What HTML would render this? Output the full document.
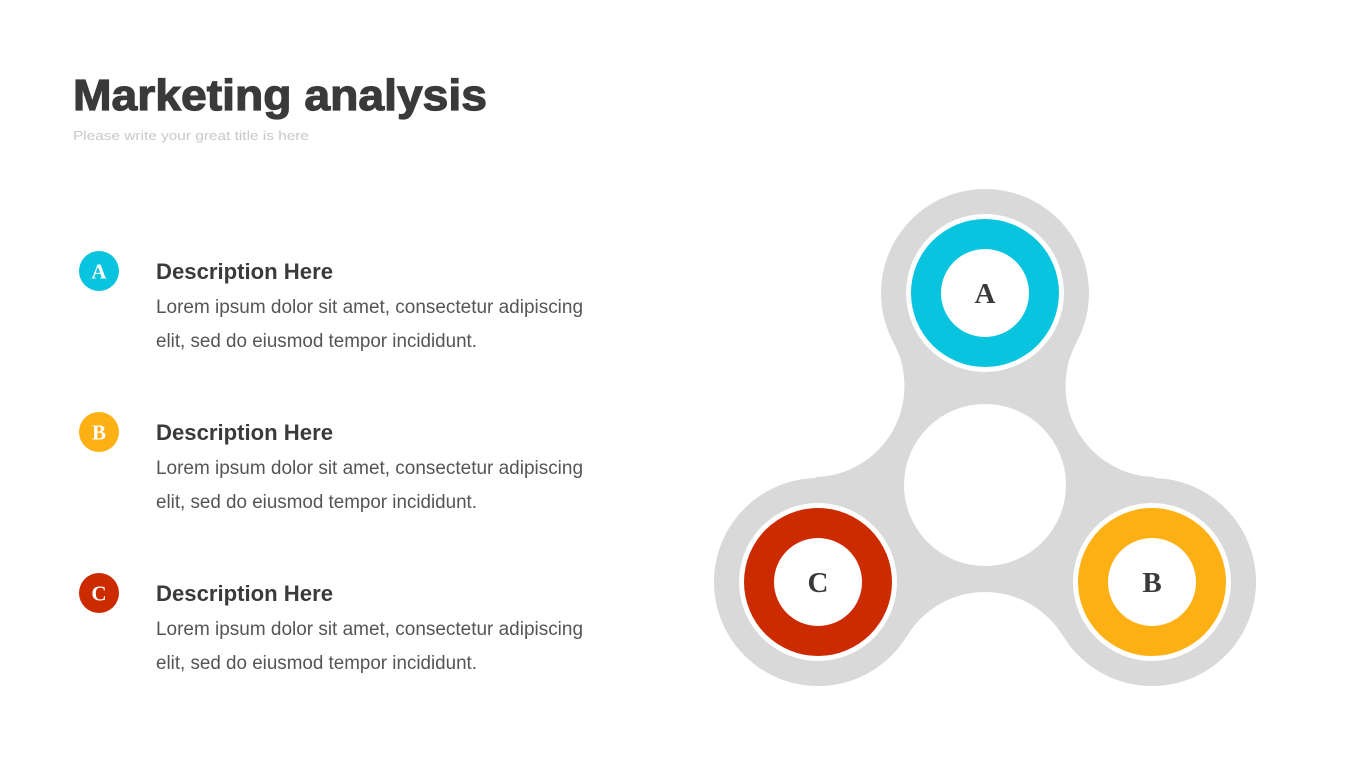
<!DOCTYPE html>
<html><head><meta charset="utf-8"><style>
html,body{margin:0;padding:0;background:#fff;}
svg{display:block;}
</style></head><body>
<svg width="1365" height="768" viewBox="0 0 1365 768" xmlns="http://www.w3.org/2000/svg" font-family="Liberation Sans, sans-serif">
<rect width="1365" height="768" fill="#fff"/>
<text x="73" y="110" font-size="44" font-weight="bold" fill="#3a3a3a" stroke="#3a3a3a" stroke-width="1.2" textLength="414" lengthAdjust="spacingAndGlyphs">Marketing analysis</text>
<text x="73" y="140" font-size="13" fill="#c8c8c8" textLength="236" lengthAdjust="spacingAndGlyphs">Please write your great title is here</text>

<g>
<circle cx="99" cy="271" r="20" fill="#08c4de"/>
<text x="99" y="278.5" font-size="21" font-weight="bold" fill="#fff" text-anchor="middle" font-family="Liberation Serif, serif">A</text>
<text x="156" y="279" font-size="22" font-weight="bold" fill="#3a3a3a" textLength="177" lengthAdjust="spacingAndGlyphs">Description Here</text>
<text x="156" y="313" font-size="19" fill="#555" textLength="427" lengthAdjust="spacingAndGlyphs">Lorem ipsum dolor sit amet, consectetur adipiscing</text>
<text x="156" y="347" font-size="19" fill="#555" textLength="321" lengthAdjust="spacingAndGlyphs">elit, sed do eiusmod tempor incididunt.</text>
</g>
<g>
<circle cx="99" cy="432" r="20" fill="#fdb014"/>
<text x="99" y="439.5" font-size="21" font-weight="bold" fill="#fff" text-anchor="middle" font-family="Liberation Serif, serif">B</text>
<text x="156" y="440" font-size="22" font-weight="bold" fill="#3a3a3a" textLength="177" lengthAdjust="spacingAndGlyphs">Description Here</text>
<text x="156" y="474" font-size="19" fill="#555" textLength="427" lengthAdjust="spacingAndGlyphs">Lorem ipsum dolor sit amet, consectetur adipiscing</text>
<text x="156" y="508" font-size="19" fill="#555" textLength="321" lengthAdjust="spacingAndGlyphs">elit, sed do eiusmod tempor incididunt.</text>
</g>
<g>
<circle cx="99" cy="593" r="20" fill="#cc2b00"/>
<text x="99" y="600.5" font-size="21" font-weight="bold" fill="#fff" text-anchor="middle" font-family="Liberation Serif, serif">C</text>
<text x="156" y="601" font-size="22" font-weight="bold" fill="#3a3a3a" textLength="177" lengthAdjust="spacingAndGlyphs">Description Here</text>
<text x="156" y="635" font-size="19" fill="#555" textLength="427" lengthAdjust="spacingAndGlyphs">Lorem ipsum dolor sit amet, consectetur adipiscing</text>
<text x="156" y="669" font-size="19" fill="#555" textLength="321" lengthAdjust="spacingAndGlyphs">elit, sed do eiusmod tempor incididunt.</text>
</g>

<polygon points="985,293 1156.5,386 1152,582 985,683 818,582 813.5,386" fill="#d9d9d9"/>
<circle cx="1156.5" cy="386" r="91" fill="#fff"/>
<circle cx="813.5" cy="386" r="91" fill="#fff"/>
<circle cx="985" cy="683" r="91" fill="#fff"/>
<circle cx="985" cy="293" r="104" fill="#d9d9d9"/>
<circle cx="1152" cy="582" r="104" fill="#d9d9d9"/>
<circle cx="818" cy="582" r="104" fill="#d9d9d9"/>
<circle cx="985" cy="485" r="81" fill="#fff"/>

<circle cx="985" cy="293" r="79" fill="#fff"/>
<circle cx="985" cy="293" r="74" fill="#08c4de"/>
<circle cx="985" cy="293" r="44" fill="#fff"/>
<circle cx="1152" cy="582" r="79" fill="#fff"/>
<circle cx="1152" cy="582" r="74" fill="#fdb014"/>
<circle cx="1152" cy="582" r="44" fill="#fff"/>
<circle cx="818" cy="582" r="79" fill="#fff"/>
<circle cx="818" cy="582" r="74" fill="#cc2b00"/>
<circle cx="818" cy="582" r="44" fill="#fff"/>

<g font-family="Liberation Serif, serif" font-weight="bold" font-size="29" fill="#3a3a3a" text-anchor="middle">
<text x="985" y="303">A</text>
<text x="1152" y="592">B</text>
<text x="818" y="592">C</text>
</g>
</svg>
</body></html>
